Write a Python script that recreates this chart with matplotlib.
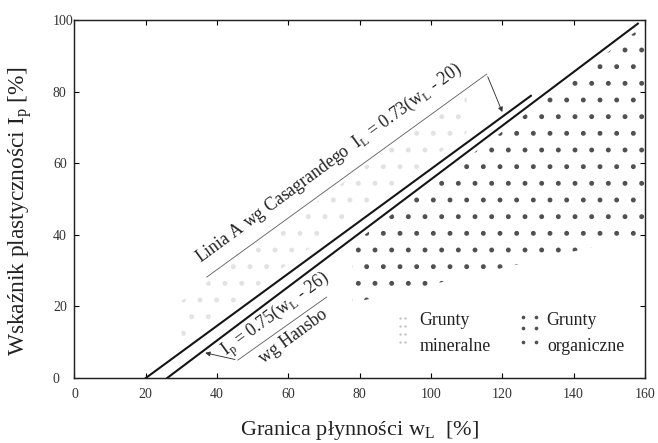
import numpy as np
import matplotlib.pyplot as plt
from matplotlib.patches import Polygon

plt.rcParams['font.family'] = 'Liberation Serif'
plt.rcParams['mathtext.fontset'] = 'custom'
plt.rcParams['mathtext.rm'] = 'Liberation Serif'
plt.rcParams['hatch.linewidth'] = 1.1

# Linia A wg Casagrandego: I = 0.73 (wL - 20)
casa_coef, casa_w0 = 0.73, 20
casa_wl = [20, 128]
# linia wg Hansbo: Ip = 0.75 (wL - 26)
hansbo_coef, hansbo_w0 = 0.75, 26
hansbo_wl = [26, 158]

# obszar gruntow organicznych
organic_wl = [78, 157, 160, 160, 78]
organic_ip = [37.5, 96.5, 96.5, 40, 21]
# obszar gruntow mineralnych (nad linia A)
mineral_wl = [30, 110, 110, 30]
mineral_ip = [10, 68.5, 80, 21.5]

# symbole legendy
leg_min_x = [91.3, 92.8] * 4
leg_min_y = [16.8, 16.8, 14.5, 14.5, 12.3, 12.3, 10.1, 10.1]
leg_org_x = [125.8, 129.4] * 3
leg_org_y = [17.0, 17.0, 14.0, 14.0, 10.1, 10.1]

xticks = [0, 20, 40, 60, 80, 100, 120, 140, 160]
yticks = [0, 20, 40, 60, 80, 100]

fig = plt.figure(figsize=(6.58, 4.43), dpi=100)
ax = fig.add_axes([0.1132, 0.1467, 0.867, 0.808])
ax.set_xlim(0, 160)
ax.set_ylim(0, 100)

# kropkowane obszary
ax.add_patch(Polygon(list(zip(mineral_wl, mineral_ip)), closed=True, fill=False,
                     hatch='.', edgecolor='#e2e2e2', lw=0))
ax.add_patch(Polygon(list(zip(organic_wl, organic_ip)), closed=True, fill=False,
                     hatch='.', edgecolor='#505050', lw=0))

# linie
w = np.array(casa_wl)
ax.plot(w, casa_coef * (w - casa_w0), color='#151515', lw=1.5)
w = np.array(hansbo_wl)
ax.plot(w, hansbo_coef * (w - hansbo_w0), color='#151515', lw=1.5)

ang = np.degrees(np.arctan(0.73))
arrow = dict(arrowstyle='-|>', color='#333333', lw=0.65, mutation_scale=7)
txt = dict(rotation=ang, rotation_mode='anchor', transform_rotates_text=True,
           ha='left', va='baseline', fontsize=12.8, color='#222222')

# opis linii A
ax.plot([37.1, 115.6], [28.2, 84.9], color='#666666', lw=0.65)
ax.annotate('', xy=(120.3, 73.6), xytext=(115.6, 84.9), arrowprops=arrow)
ax.text(35.2, 32.1, 'Linia A wg Casagrandego  I$_\\mathrm{L}$ = 0.73(w$_\\mathrm{L}$ - 20)', **txt)

# opis linii Hansbo
ax.plot([45.8, 70.7], [5.0, 22.6], color='#666666', lw=0.65)
ax.annotate('', xy=(35.9, 7.2), xytext=(45.8, 5.0), arrowprops=arrow)
ax.text(42.6, 6.0, 'I$_\\mathrm{p}$ = 0.75(w$_\\mathrm{L}$ - 26)', **txt)
ax.text(53.0, 3.9, 'wg Hansbo', **txt)

# legenda
ax.scatter(leg_min_x, leg_min_y, s=3, color='#c4c4c4', linewidths=0)
ax.scatter(leg_org_x, leg_org_y, s=7, color='#505050', linewidths=0)
ax.text(96.8, 16.2, 'Grunty', va='center', fontsize=12.8, color='#222222')
ax.text(96.8, 8.7, 'mineralne', va='center', fontsize=12.8, color='#222222')
ax.text(132.2, 16.2, 'Grunty', va='center', fontsize=12.8, color='#222222')
ax.text(132.5, 8.7, 'organiczne', va='center', fontsize=12.8, color='#222222')

ax.set_xticks(xticks)
ax.set_yticks(yticks)
ax.tick_params(direction='in', top=True, right=True, length=3.6, width=0.8,
               labelsize=10, labelcolor='#333333')
ax.tick_params(axis='x', pad=7.5)
ax.tick_params(axis='y', pad=15.5)
for lab in ax.get_yticklabels():
    lab.set_horizontalalignment('left')
for s in ax.spines.values():
    s.set_linewidth(1.05)
    s.set_color('#222222')

ax.set_xlabel('Granica płynności w$_\\mathrm{L}$  [%]', fontsize=16, color='#222222', labelpad=12.5)
ax.set_ylabel('Wskaźnik plastyczności I$_\\mathrm{p}$ [%]', fontsize=16.8, color='#222222')
ax.yaxis.set_label_coords(-0.07, 0.466)

fig.savefig('out.png', dpi=100)
